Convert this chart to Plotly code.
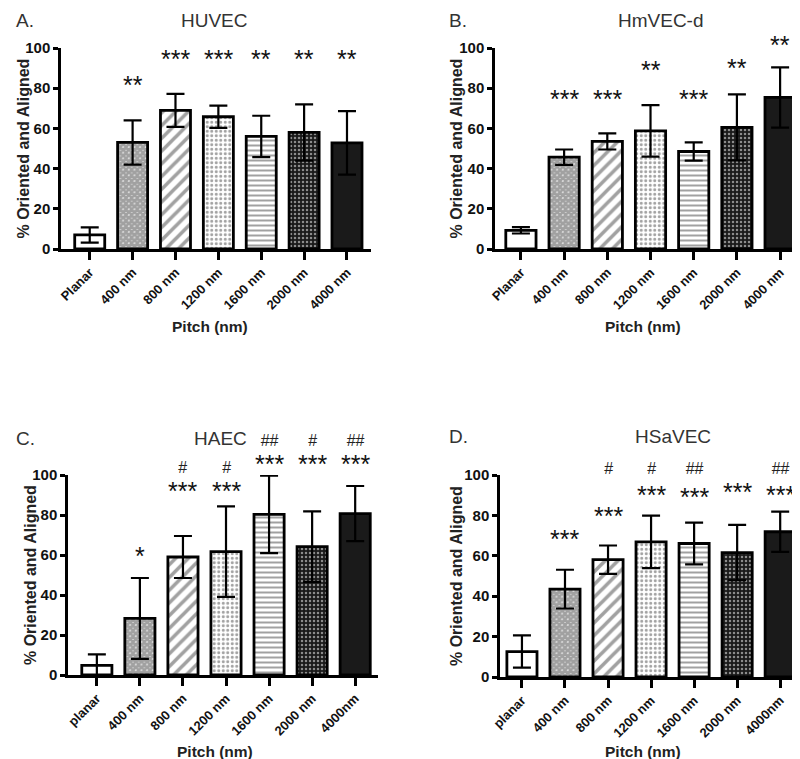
import plotly.graph_objects as go

W, H = 800, 759

labels_ab = ["Planar", "400 nm", "800 nm", "1200 nm", "1600 nm", "2000 nm", "4000 nm"]
labels_cd = ["planar", "400 nm", "800 nm", "1200 nm", "1600 nm", "2000 nm", "4000nm"]

huvec_mean = [7, 53, 69, 65.8, 56, 58, 52.8]
huvec_err = [3.8, 11, 8.2, 5.5, 10.3, 14, 15.8]
huvec_stars = ["", "**", "***", "***", "**", "**", "**"]
huvec_star_y = [None, 79, 92, 92, 92, 92, 92]

hmvec_mean = [9.3, 45.7, 53.5, 58.8, 48.5, 60.5, 75.4]
hmvec_err = [1.6, 3.8, 4, 12.8, 4.5, 16.4, 15]
hmvec_stars = ["", "***", "***", "**", "***", "**", "**"]
hmvec_star_y = [None, 72, 72, 86.7, 72, 87.5, 99.2]

haec_mean = [4.8, 28.3, 59, 61.7, 80.3, 64.2, 80.7]
haec_err = [5.5, 20.2, 10.5, 22.6, 19.4, 17.6, 13.8]
haec_stars = ["", "*", "***", "***", "***", "***", "***"]
haec_star_y = [None, 57, 91, 91, 105.2, 105.2, 105.2]
haec_hash = ["", "", "#", "#", "##", "#", "##"]
haec_hash_y = [None, None, 99.8, 99.8, 112.7, 112.7, 112.7]

hsavec_mean = [12.6, 43.5, 58.1, 66.9, 66.1, 61.6, 71.9]
hsavec_err = [8, 9.6, 7, 13, 10.3, 13.7, 10]
hsavec_stars = ["", "***", "***", "***", "***", "***", "***"]
hsavec_star_y = [None, 65.6, 78.8, 89, 88, 89, 89]
hsavec_hash = ["", "", "#", "#", "##", "", "##"]
hsavec_hash_y = [None, None, 99.5, 99.5, 99.5, None, 99.5]

titles = ["HUVEC", "HmVEC-d", "HAEC", "HSaVEC"]
letters = ["A.", "B.", "C.", "D."]
y_title = "% Oriented and Aligned"
x_title = "Pitch (nm)"

FONT = "Liberation Sans, Arial, sans-serif"

def px(x):
    return x / W

def py(y):
    return 1 - y / H

panels = [
    dict(x0=53, x1=363, y0=241, y100=40, xr=[-0.67, 6.56], title_x=207, title_y=13, let_x=17,
         let_y=13, ytx=15, xtx=202, xty=318),
    dict(x0=487, x1=795, y0=241, y100=40, xr=[-0.6, 6.53], title_x=653, title_y=13, let_x=450,
         let_y=13, ytx=448, xtx=635, xty=318),
    dict(x0=60, x1=370, y0=667, y100=467, xr=[-0.67, 6.53], title_x=212, title_y=430, let_x=17,
         let_y=430, ytx=22, xtx=207, xty=743),
    dict(x0=492, x1=795, y0=669, y100=467, xr=[-0.51, 6.53], title_x=665, title_y=429, let_x=450,
         let_y=429, ytx=448, xtx=635, xty=743),
]

data = [
    (labels_ab, huvec_mean, huvec_err, huvec_stars, huvec_star_y, None, None),
    (labels_ab, hmvec_mean, hmvec_err, hmvec_stars, hmvec_star_y, None, None),
    (labels_cd, haec_mean, haec_err, haec_stars, haec_star_y, haec_hash, haec_hash_y),
    (labels_cd, hsavec_mean, hsavec_err, hsavec_stars, hsavec_star_y, hsavec_hash, hsavec_hash_y),
]

pat_shape = ["", "x", "/", ".", "-", ".", ""]
pat_fg = ["black", "black", "black", "black", "black", "white", "black"]
pat_bg = ["white", "white", "white", "white", "white", "#1a1a1a", "#1a1a1a"]
pat_size = [6, 4, 9, 4.5, 5, 4, 6]
pat_sol = [0.3, 0.9, 0.4, 0.35, 0.4, 0.3, 0.3]
bar_color = ["white", "white", "white", "white", "white", "#1a1a1a", "#1a1a1a"]

fig = go.Figure()
annotations = []
layout = {}

for i, (p, d) in enumerate(zip(panels, data)):
    labels, mean, err, stars, star_y, hashes, hash_y = d
    sfx = "" if i == 0 else str(i + 1)
    xa, ya = "x" + sfx, "y" + sfx
    xs = list(range(len(labels)))
    unit_px = (p["y0"] - p["y100"]) / 100.0

    def vy(v, p=p, unit_px=unit_px):
        return py(p["y0"] - v * unit_px)

    fig.add_trace(go.Bar(
        x=xs, y=mean, xaxis=xa, yaxis=ya, width=0.7,
        marker=dict(color=bar_color, line=dict(color="black", width=2.8),
                    pattern=dict(shape=pat_shape, fgcolor=pat_fg, bgcolor=pat_bg,
                                 size=pat_size, solidity=pat_sol, fillmode="overlay")),
        error_y=dict(type="data", array=err, visible=True, color="black", thickness=2.2, width=9),
        showlegend=False,
    ))
    layout["xaxis" + sfx] = dict(
        domain=[px(p["x0"]), px(p["x1"])], anchor=ya, range=p["xr"],
        tickmode="array", tickvals=xs, ticktext=labels, tickangle=-45,
        showline=True, linecolor="black", linewidth=2.5, ticks="outside", ticklen=8,
        tickwidth=2.5, tickcolor="black", showgrid=False, zeroline=False,
        tickfont=dict(family=FONT, size=13, color="#111111", weight="bold"), automargin=False,
    )
    layout["yaxis" + sfx] = dict(
        domain=[py(p["y0"]), py(p["y100"])], anchor=xa, range=[0, 100],
        tickvals=[0, 20, 40, 60, 80, 100], showline=True, linecolor="black", linewidth=2.5,
        ticks="outside", ticklen=5, tickwidth=2.5, tickcolor="black", showgrid=False,
        zeroline=False, tickfont=dict(family=FONT, size=15, color="#111111", weight="bold"),
        automargin=False,
    )
    annotations.append(dict(text=titles[i], x=px(p["title_x"]), y=py(p["title_y"]), xref="paper",
                            yref="paper", showarrow=False, xanchor="center", yanchor="middle",
                            font=dict(family=FONT, size=19, color="#333333")))
    annotations.append(dict(text=letters[i], x=px(p["let_x"]), y=py(p["let_y"]), xref="paper",
                            yref="paper", showarrow=False, xanchor="center", yanchor="middle",
                            font=dict(family=FONT, size=19, color="#333333")))
    annotations.append(dict(text=y_title, x=px(p["ytx"]), y=py((p["y0"] + p["y100"]) / 2),
                            xref="paper", yref="paper", showarrow=False, textangle=-90,
                            xanchor="center", yanchor="middle",
                            font=dict(family=FONT, size=16, color="#222222", weight="bold")))
    annotations.append(dict(text=x_title, x=px(p["xtx"]), y=py(p["xty"]), xref="paper",
                            yref="paper", showarrow=False, xanchor="center", yanchor="middle",
                            font=dict(family=FONT, size=15.5, color="#222222", weight="bold")))
    for k in xs:
        has_hash = hashes is not None and hashes[k]
        if stars[k] and has_hash:
            # one stacked text: line spacing chosen so the glyphs land at their read positions
            sep_px = (hash_y[k] - star_y[k]) * unit_px
            base = max((sep_px + 8.9) / 1.3, 20.4)
            txt = ("<span style='font-size:16px;color:#222222'>" + hashes[k] + "</span><br>"
                   "<span style='font-size:25px'>" + stars[k] + "</span>")
            ymid = (star_y[k] + hash_y[k]) / 2.0
            annotations.append(dict(text=txt, x=k, y=vy(ymid), xref=xa, yref="paper",
                                    showarrow=False, xanchor="center", yanchor="middle",
                                    yshift=2, font=dict(family=FONT, size=base, color="#111111")))
        elif stars[k]:
            annotations.append(dict(text=stars[k], x=k, y=vy(star_y[k]), xref=xa, yref="paper",
                                    showarrow=False, xanchor="center", yanchor="middle",
                                    yshift=5, font=dict(family=FONT, size=25, color="#111111")))

fig.update_layout(
    width=W, height=H, margin=dict(l=0, r=0, t=0, b=0),
    paper_bgcolor="white", plot_bgcolor="white", bargap=0.3,
    annotations=annotations, **layout,
)

fig.write_html("out.html")
